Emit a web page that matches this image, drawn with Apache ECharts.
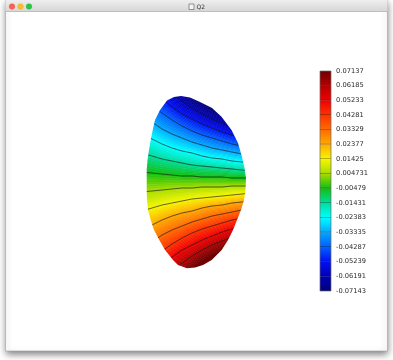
<!DOCTYPE html>
<html><head><meta charset="utf-8">
<script src="https://cdn.jsdelivr.net/npm/echarts@6/dist/echarts.min.js"></script>
<style>html,body{margin:0;padding:0;background:#fff}#c{width:393px;height:360px}</style>
</head><body><div id="c"></div>
<script>
// ---- data ----
const TITLE = 'Q2';
const TICK_VALUES = [0.07137, 0.06185, 0.05233, 0.04281, 0.03329, 0.02377, 0.01425, 0.004731,
  -0.00479, -0.01431, -0.02383, -0.03335, -0.04287, -0.05239, -0.06191, -0.07143];
const TICK_LABELS = ['0.07137','0.06185','0.05233','0.04281','0.03329','0.02377','0.01425','0.004731',
  '-0.00479','-0.01431','-0.02383','-0.03335','-0.04287','-0.05239','-0.06191','-0.07143'];
const LEVEL_COLORS = ['#6e0000','#b40000','#f00000','#ff3200','#ff6c00','#ffaa00','#f6f600','#a8dc00',
  '#10c010','#00dca0','#00ffff','#00a8ff','#0060ff','#0010f0','#0000b8','#000078'];

// plasma boundary (R, Z)
const BOUND_R = [1.34,1.43,1.53,1.65,1.745,1.845,1.91,1.95,1.975,1.99,1.985,1.97,1.94,1.90,1.86,1.81,1.747,1.647,1.56,1.48,1.40,1.31,1.26,1.18,1.123,1.07,1.037,1.01,1.0,0.997,0.997,1.005,1.02,1.037,1.057,1.08,1.13,1.20,1.27];
const BOUND_Z = [0.86,0.845,0.80,0.74,0.653,0.52,0.39,0.25,0.14,0.04,-0.08,-0.18,-0.28,-0.38,-0.48,-0.58,-0.68,-0.78,-0.83,-0.855,-0.863,-0.83,-0.78,-0.68,-0.58,-0.48,-0.38,-0.28,-0.18,-0.08,0.12,0.22,0.32,0.42,0.52,0.62,0.72,0.815,0.85];

// contour lines: Z at each R column
const R_COLS = [0.95,1.05,1.15,1.25,1.35,1.45,1.55,1.65,1.75,1.85,1.95,2.05];
const zN06191 = [1.0,1.0,0.99,0.89,0.81,0.74,0.68,0.63,0.59,0.55,0.52,0.49];
const zN05239 = [1.0,0.94,0.84,0.75,0.68,0.63,0.58,0.54,0.50,0.47,0.44,0.42];
const zN04287 = [0.88,0.77,0.69,0.62,0.56,0.51,0.47,0.44,0.41,0.38,0.36,0.34];
const zN03335 = [0.69,0.60,0.53,0.48,0.44,0.40,0.37,0.34,0.32,0.30,0.28,0.27];
const zN02383 = [0.49,0.43,0.38,0.34,0.31,0.29,0.26,0.24,0.23,0.21,0.20,0.19];
const zN01431 = [0.29,0.26,0.23,0.21,0.19,0.17,0.16,0.15,0.14,0.13,0.12,0.11];
const zN00479 = [0.10,0.09,0.08,0.07,0.06,0.06,0.05,0.05,0.05,0.04,0.04,0.04];
const zP00473 = [-0.10,-0.09,-0.08,-0.07,-0.06,-0.06,-0.05,-0.05,-0.05,-0.04,-0.04,-0.04];
const zP01425 = [-0.29,-0.26,-0.23,-0.21,-0.19,-0.17,-0.16,-0.15,-0.14,-0.13,-0.12,-0.11];
const zP02377 = [-0.49,-0.43,-0.38,-0.34,-0.31,-0.29,-0.26,-0.24,-0.23,-0.21,-0.20,-0.19];
const zP03329 = [-0.69,-0.60,-0.53,-0.48,-0.44,-0.40,-0.37,-0.34,-0.32,-0.30,-0.28,-0.27];
const zP04281 = [-0.88,-0.77,-0.69,-0.62,-0.56,-0.51,-0.47,-0.44,-0.41,-0.38,-0.36,-0.34];
const zP05233 = [-1.0,-0.94,-0.84,-0.75,-0.68,-0.63,-0.58,-0.54,-0.50,-0.47,-0.44,-0.42];
const zP06185 = [-1.0,-1.0,-0.99,-0.89,-0.81,-0.74,-0.68,-0.63,-0.59,-0.55,-0.52,-0.49];
const CONTOUR_LEVELS = [-0.06191,-0.05239,-0.04287,-0.03335,-0.02383,-0.01431,-0.00479,
  0.004731,0.01425,0.02377,0.03329,0.04281,0.05233,0.06185];

// ---- build ----
const CURVES = [zN06191,zN05239,zN04287,zN03335,zN02383,zN01431,zN00479,
  zP00473,zP01425,zP02377,zP03329,zP04281,zP05233,zP06185];
const Z_MIN = -1, Z_MAX = 1;
const NL = CURVES.length;
function colorOf(v){
  let best = 0, bd = Infinity;
  TICK_VALUES.forEach((t,i)=>{ const d = Math.abs(t-v); if (d < bd){bd=d;best=i;} });
  return LEVEL_COLORS[best];
}
function hex2rgb(h){ return [parseInt(h.substr(1,2),16), parseInt(h.substr(3,2),16), parseInt(h.substr(5,2),16)]; }
function mix(a,b,t){ const A=hex2rgb(a), B=hex2rgb(b);
  return 'rgb('+A.map((v,i)=>Math.round(v+(B[i]-v)*t)).join(',')+')'; }
const clampZ = z => Math.max(Z_MIN, Math.min(Z_MAX, z));

function bandRender(params, api){
  const b = api.value(0);
  const K = 8;
  let topZ, botZ, cTop, cBot;
  if (b > 0 && b < NL){
    topZ = CURVES[b-1]; botZ = CURVES[b];
    cTop = colorOf(CONTOUR_LEVELS[b-1]); cBot = colorOf(CONTOUR_LEVELS[b]);
  } else if (b === 0){
    botZ = CURVES[0]; topZ = CURVES[0].map((z,i)=> z + (z - CURVES[1][i]));
    cBot = colorOf(CONTOUR_LEVELS[0]); cTop = LEVEL_COLORS[LEVEL_COLORS.length-1];
  } else {
    topZ = CURVES[NL-1]; botZ = topZ.map((z,i)=> z - (CURVES[NL-2][i] - z));
    cTop = colorOf(CONTOUR_LEVELS[NL-1]); cBot = LEVEL_COLORS[0];
  }
  const edge = t => R_COLS.map((r,i)=> api.coord([r, clampZ(topZ[i] + (botZ[i]-topZ[i])*t)]));
  const children = [];
  const poly = (upper, lower, col) => children.push({type:'polygon',
    shape:{points: upper.concat(lower.slice().reverse())}, style:{fill:col, stroke:col, lineWidth:0.6}});
  for (let k = 0; k < K; k++){
    poly(edge(k/K), edge((k+1)/K), mix(cTop, cBot, (k+0.5)/K));
  }
  if (b === 0) poly(R_COLS.map(r=>api.coord([r, Z_MAX])), edge(0), cTop);
  if (b === NL) poly(edge(1), R_COLS.map(r=>api.coord([r, Z_MIN])), cBot);
  return {type:'group', children};
}
function maskRender(params, api){
  const tl = api.coord([0.80, Z_MAX]), br = api.coord([2.20, Z_MIN]);
  const m = 8;
  let d = 'M'+(tl[0]-m)+' '+(tl[1]-m)+' L'+(br[0]+m)+' '+(tl[1]-m)+' L'+(br[0]+m)+' '+(br[1]+m)+' L'+(tl[0]-m)+' '+(br[1]+m)+' Z ';
  const pts = BOUND_R.map((r,i)=>api.coord([r, BOUND_Z[i]])).reverse();
  d += 'M' + pts.map(p=>p[0].toFixed(2)+' '+p[1].toFixed(2)).join(' L') + ' Z';
  return {type:'path', shape:{pathData:d}, style:{fill:'#ffffff'}};
}
function cbarRender(params, api){
  const i = api.value(0);
  const hi = TICK_VALUES[i], lo = TICK_VALUES[i+1];
  const p1 = api.coord([0, hi]), p2 = api.coord([1, lo]);
  const ch = [{type:'rect', shape:{x:p1[0], y:p1[1], width:p2[0]-p1[0], height:p2[1]-p1[1]},
    style:{fill:{type:'linear',x:0,y:0,x2:0,y2:1,colorStops:[{offset:0,color:colorOf(hi)},{offset:1,color:colorOf(lo)}]}}}];
  if (i < TICK_VALUES.length - 2){
    ch.push({type:'line', shape:{x1:p1[0], y1:p2[1], x2:p2[0], y2:p2[1]}, style:{stroke:'rgba(0,0,0,0.55)', lineWidth:1}});
  }
  return {type:'group', children:ch};
}

const lineSeries = CURVES.map((c, k) => ({
  type:'line', xAxisIndex:0, yAxisIndex:0, z:3, silent:true, symbol:'none',
  data: R_COLS.map((r,i)=>[r, c[i]]),
  lineStyle:{color:'#141414', width:0.8, opacity:0.8}, name:String(CONTOUR_LEVELS[k])
}));

const chart = echarts.init(document.getElementById('c'), null, {width:393, height:360});
chart.setOption({
  animation:false,
  backgroundColor:'#ffffff',
  graphic:{elements:[
    {type:'rect', z:-10, silent:true, shape:{x:5.5,y:0,width:382,height:351},
      style:{fill:'#ffffff', stroke:'#a0a0a0', lineWidth:0.6, shadowBlur:7, shadowOffsetY:3, shadowColor:'rgba(0,0,0,0.5)'}},
    {type:'rect', z:-9, silent:true, shape:{x:5.5,y:0,width:382,height:11.5},
      style:{fill:{type:'linear',x:0,y:0,x2:0,y2:1,colorStops:[{offset:0,color:'#eeeeee'},{offset:1,color:'#d6d6d6'}]}}},
    {type:'line', z:-9, silent:true, shape:{x1:5.5,y1:11.5,x2:387.5,y2:11.5}, style:{stroke:'#b4b4b4', lineWidth:0.8}},
    {type:'circle', z:-8, silent:true, shape:{cx:12,cy:6.5,r:2.8}, style:{fill:'#fc5f57', stroke:'#de4a41', lineWidth:0.4}},
    {type:'circle', z:-8, silent:true, shape:{cx:20.5,cy:6.5,r:2.8}, style:{fill:'#fdbc2e', stroke:'#de9f27', lineWidth:0.4}},
    {type:'circle', z:-8, silent:true, shape:{cx:29,cy:6.5,r:2.8}, style:{fill:'#28c840', stroke:'#1fa934', lineWidth:0.4}},
    {type:'rect', z:-8, silent:true, shape:{x:189,y:4,width:5,height:5.5}, style:{fill:'#f4f4f4', stroke:'#555', lineWidth:0.6}},
    {type:'text', z:-8, silent:true, style:{text:TITLE, x:196.5, y:7, font:'6px "DejaVu Sans"', fill:'#333', verticalAlign:'middle'}}
  ]},
  grid:[
    {left:97, top:82, width:200, height:200},
    {left:320, top:71, width:11, height:220}
  ],
  xAxis:[
    {type:'value', gridIndex:0, min:0.5, max:2.5, show:false},
    {type:'value', gridIndex:1, min:0, max:1, show:false}
  ],
  yAxis:[
    {type:'value', gridIndex:0, min:Z_MIN, max:Z_MAX, show:false},
    {type:'value', gridIndex:1, min:TICK_VALUES[TICK_VALUES.length-1], max:TICK_VALUES[0], position:'right',
      axisLine:{show:false}, axisTick:{show:false}, splitLine:{show:false},
      axisLabel:{show:true, customValues:TICK_VALUES, margin:5, color:'#2a2a2a', fontSize:6.7, fontFamily:'DejaVu Sans',
        padding:[0,0,6,0],
        formatter:(v)=>{ let k=0,bd=Infinity; TICK_VALUES.forEach((t,i)=>{const d=Math.abs(t-v); if(d<bd){bd=d;k=i;}}); return TICK_LABELS[k]; }}}
  ],
  series:[
    {type:'custom', xAxisIndex:0, yAxisIndex:0, z:1, silent:true, renderItem:bandRender,
      data: Array.from({length:NL+1}, (_,i)=>[i])},
    ...lineSeries,
    {type:'custom', xAxisIndex:0, yAxisIndex:0, z:5, silent:true, renderItem:maskRender, data:[[0]]},
    {type:'custom', xAxisIndex:1, yAxisIndex:1, z:2, silent:true, renderItem:cbarRender,
      data: Array.from({length:TICK_VALUES.length-1}, (_,i)=>[i])},
    {type:'custom', xAxisIndex:1, yAxisIndex:1, z:3, silent:true, data:[[0]],
      renderItem:(p, api)=>{ const a=api.coord([0,TICK_VALUES[0]]), b=api.coord([1,TICK_VALUES[TICK_VALUES.length-1]]);
        return {type:'rect', shape:{x:a[0], y:a[1], width:b[0]-a[0], height:b[1]-a[1]}, style:{fill:null, stroke:'#6a6a6a', lineWidth:0.7}}; }}
  ]
});
</script></body></html>
